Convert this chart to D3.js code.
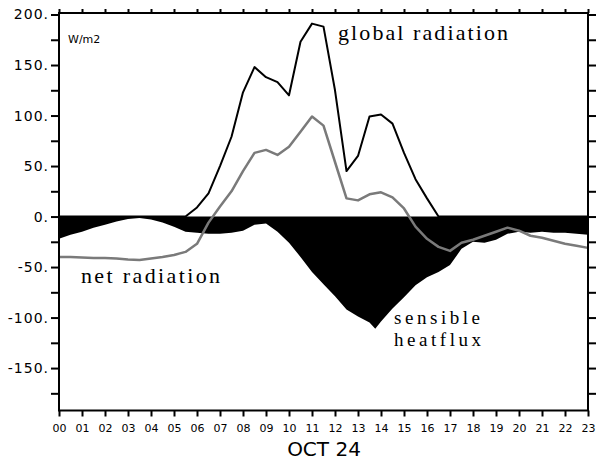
<!DOCTYPE html>
<html>
<head>
<meta charset="utf-8">
<script src="https://cdn.jsdelivr.net/npm/d3@7"></script>
<style>
  body { margin: 0; background: #fff; }
  svg { display: block; }
  .tick text { font-family: "DejaVu Sans", sans-serif; fill: #000; }
  .lbl { font-family: "Liberation Serif", serif; font-size: 22px; fill: #000; }
</style>
</head>
<body>
<div id="chart"></div>
<script>
// hours of day (half-hourly samples)
const hours = [0, 0.5, 1, 1.5, 2, 2.5, 3, 3.5, 4, 4.5, 5, 5.5, 6, 6.5, 7, 7.5, 8, 8.5, 9, 9.5,
               10, 10.5, 11, 11.5, 12, 12.5, 13, 13.5, 14, 14.5, 15, 15.5, 16, 16.5, 17, 17.5,
               18, 18.5, 19, 19.5, 20, 20.5, 21, 21.5, 22, 22.5, 23];

// global radiation (W/m2)
const globalRad = [0, 0, 0, 0, 0, 0, 0, 0, 0, 0, 0, 0, 9, 23, 50, 79, 123, 148, 138, 133,
                   120, 173, 191, 188, 125, 45, 60, 99, 101, 92, 63, 37, 18, 0, 0, 0,
                   0, 0, 0, 0, 0, 0, 0, 0, 0, 0, 0];

// net radiation (W/m2)
const netRad = [-40, -40, -40.5, -41, -41, -41.5, -42.5, -43, -41.5, -40, -38, -35, -27, -6, 10, 25, 45, 63, 66, 61,
                69, 84, 99, 90, 54, 18, 16, 22, 24, 19, 8, -10, -22, -30, -34, -26,
                -23, -19, -15, -11, -14, -19, -21, -24, -27, -29, -31];

// sensible heat flux (W/m2)
const sensHours = [0, 0.5, 1, 1.5, 2, 2.5, 3, 3.5, 4, 4.5, 5, 5.5, 6, 6.5, 7, 7.5, 8, 8.5, 9, 9.5,
                   10, 10.5, 11, 11.5, 12, 12.5, 13, 13.5, 13.75, 14, 14.5, 15, 15.5, 16, 16.5, 17, 17.5,
                   18, 18.5, 19, 19.5, 20, 20.5, 21, 21.5, 22, 22.5, 23];
const sensible = [-22, -18, -15, -11, -8, -5, -2.5, -1.5, -3, -6, -10, -15, -16, -17, -17, -16, -14, -8, -7, -15,
                  -26, -40, -55, -67, -79, -92, -99, -105, -111, -104, -91, -80, -68, -60, -55, -48, -32,
                  -25, -26, -23, -17, -15, -16, -15, -16, -16, -17, -18];

const yTicks = [-175, -150, -125, -100, -75, -50, -25, 0, 25, 50, 75, 100, 125, 150, 175, 200];

const width = 607, height = 464;
const plotL = 59, plotR = 588, plotT = 13, plotB = 410.5;

const svg = d3.select("#chart").append("svg")
    .attr("width", width)
    .attr("height", height);

const x = d3.scaleLinear().domain([0, 23]).range([plotL, plotR]);
const y = d3.scaleLinear().domain([-192, 201.5]).range([plotB, plotT]);

// sensible heat flux, filled black from zero
const area = d3.area()
    .x((d, i) => x(sensHours[i]))
    .y0(y(0))
    .y1(d => y(d));
svg.append("path")
   .datum(sensible)
   .attr("d", area)
   .attr("fill", "#000");

const line = d3.line()
    .x((d, i) => x(hours[i]))
    .y(d => y(d));

svg.append("path")
   .datum(globalRad)
   .attr("d", line)
   .attr("fill", "none")
   .attr("stroke", "#000")
   .attr("stroke-width", 2)
   .attr("stroke-linejoin", "round");

svg.append("path")
   .datum(netRad)
   .attr("d", line)
   .attr("fill", "none")
   .attr("stroke", "#7a7a7a")
   .attr("stroke-width", 2.5)
   .attr("stroke-linejoin", "round");

// axes
const fmtY = v => (v % 50 === 0 ? v + "." : "");
const hourTicks = hours.filter(h => h % 1 === 0);

const yLeft = svg.append("g")
    .attr("transform", "translate(" + plotL + ",0)")
    .call(d3.axisLeft(y).tickValues(yTicks).tickSize(8).tickPadding(2).tickFormat(fmtY));
yLeft.selectAll("text").style("font-size", "14px").style("letter-spacing", "1px");

svg.append("g")
   .attr("transform", "translate(" + plotR + ",0)")
   .call(d3.axisRight(y).tickValues(yTicks).tickSize(8).tickFormat(""));

svg.append("g")
   .attr("transform", "translate(0," + plotT + ")")
   .call(d3.axisTop(x).tickValues(hourTicks).tickSize(4).tickFormat(""));

const xBottom = svg.append("g")
    .attr("transform", "translate(0," + plotB + ")")
    .call(d3.axisBottom(x).tickValues(hourTicks).tickSize(6).tickPadding(8)
          .tickFormat(d3.format("02d")));
xBottom.selectAll("text").style("font-size", "11px");

svg.selectAll(".domain").remove();
svg.selectAll(".tick line").attr("stroke", "#000").attr("stroke-width", 2);

svg.append("rect")
   .attr("x", plotL).attr("y", plotT)
   .attr("width", plotR - plotL).attr("height", plotB - plotT)
   .attr("fill", "none")
   .attr("stroke", "#000")
   .attr("stroke-width", 2);

// texts
svg.append("text")
   .attr("x", 324).attr("y", 456)
   .attr("text-anchor", "middle")
   .style("font-family", "DejaVu Sans, sans-serif")
   .style("font-size", "20px")
   .text("OCT 24");

svg.append("text")
   .attr("x", 68).attr("y", 43)
   .style("font-family", "DejaVu Sans, sans-serif")
   .style("font-size", "11px")
   .text("W/m2");

function label(str, lx, ly, len, size) {
    svg.append("text")
       .attr("class", "lbl")
       .attr("x", lx).attr("y", ly)
       .style("font-size", size + "px")
       .attr("textLength", len)
       .attr("lengthAdjust", "spacing")
       .text(str);
}
label("global radiation", 338, 40, 170, 22);
label("net radiation", 81, 283, 139, 22);
label("sensible", 394, 324, 86, 19);
label("heatflux", 394, 346, 87, 19);
</script>
</body>
</html>
